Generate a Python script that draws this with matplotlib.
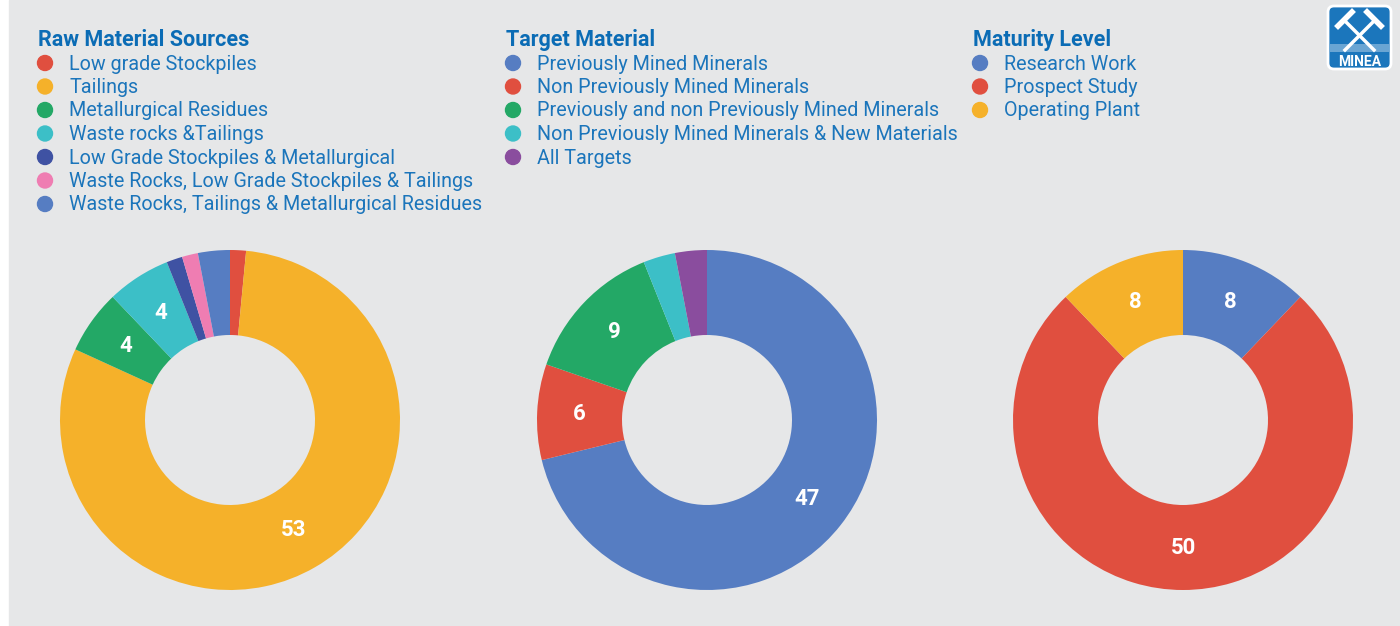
import matplotlib.pyplot as plt
import numpy as np
from matplotlib.patches import Rectangle, FancyBboxPatch, Circle

# ---- data ----
raw_labels = ["Low grade Stockpiles", "Tailings", "Metallurgical Residues",
              "Waste rocks &Tailings", "Low Grade Stockpiles & Metallurgical",
              "Waste Rocks, Low Grade Stockpiles & Tailings",
              "Waste Rocks, Tailings & Metallurgical Residues"]
raw_values = [1, 53, 4, 4, 1, 1, 2]
raw_colors = ["#e04f3f", "#f5b12a", "#23a866", "#3cbfc7", "#3f52a3", "#ef7db2", "#567dc2"]

target_labels = ["Previously Mined Minerals", "Non Previously Mined Minerals",
                 "Previously and non Previously Mined Minerals",
                 "Non Previously Mined Minerals & New Materials", "All Targets"]
target_values = [47, 6, 9, 2, 2]
target_colors = ["#567dc2", "#e04f3f", "#23a866", "#3cbfc7", "#8a4d9e"]

maturity_labels = ["Research Work", "Prospect Study", "Operating Plant"]
maturity_values = [8, 50, 8]
maturity_colors = ["#567dc2", "#e04f3f", "#f5b12a"]

titles = ["Raw Material Sources", "Target Material", "Maturity Level"]

BG = "#e6e7e8"
TXT = "#1b75bb"
TITLE = "#0b6cb5"
FONT = ["Roboto", "DejaVu Sans"]

W, H = 1400, 626
fig = plt.figure(figsize=(W / 100, H / 100), dpi=100)
fig.patch.set_facecolor("white")

# background axes in pixel coords
bg = fig.add_axes([0, 0, 1, 1])
bg.set_xlim(0, W)
bg.set_ylim(H, 0)
bg.axis("off")
bg.add_patch(Rectangle((9, 0), W - 9, H, color=BG, zorder=0))

# legends
legend_x = [45, 513, 980]
groups = [(raw_labels, raw_colors), (target_labels, target_colors),
          (maturity_labels, maturity_colors)]
for gx, title, (labs, cols) in zip(legend_x, titles, groups):
    bg.text(gx - 7, 40, title, color=TITLE, fontsize=15.5, fontweight="bold",
            family=FONT, va="center", ha="left")
    for i, (lab, col) in enumerate(zip(labs, cols)):
        y = 63 + i * 23.5
        bg.add_patch(Circle((gx, y), 7.5, color=col, zorder=2))
        bg.text(gx + 24, y + 1, lab, color=TXT, fontsize=14.2, family=FONT,
                va="center", ha="left")

# logo
bg.add_patch(FancyBboxPatch((1328, 6), 63, 63, boxstyle="round,pad=0,rounding_size=6",
                            fc="#1b76bc", ec="white", lw=2, zorder=3))
bg.plot([1344, 1374], [20, 50], color="white", lw=2.5, zorder=4)
bg.plot([1375, 1345], [20, 50], color="white", lw=2.5, zorder=4)
bg.plot([1338, 1352], [26, 12], color="white", lw=4, zorder=4)
bg.plot([1381, 1367], [26, 12], color="white", lw=4, zorder=4)
bg.add_patch(Rectangle((1330, 44), 59, 8, color="white", alpha=0.35, zorder=4, lw=0))
bg.text(1359.5, 62, "MINEA", color="white", fontsize=10, fontweight="bold",
        family=FONT, ha="center", va="center", zorder=5)

# donuts
centers = [230, 707, 1183]
cy = 420
R = 170
datasets = [(raw_values, raw_colors), (target_values, target_colors),
            (maturity_values, maturity_colors)]
for cx, (vals, cols) in zip(centers, datasets):
    ax = fig.add_axes([(cx - R) / W, (H - cy - R) / H, 2 * R / W, 2 * R / H])
    wedges, _ = ax.pie(vals, colors=cols, startangle=90, counterclock=False,
                       radius=1, wedgeprops=dict(width=0.5, linewidth=0))
    ax.set_xlim(-1, 1)
    ax.set_ylim(-1, 1)
    ax.axis("off")
    total = sum(vals)
    cum = 0
    for v in vals:
        mid = (cum + v / 2) / total * 2 * np.pi
        cum += v
        if v >= 4:
            ax.text(0.75 * np.sin(mid), 0.75 * np.cos(mid), str(v), color="white",
                    fontsize=16, fontweight="bold", family=FONT,
                    ha="center", va="center")

plt.savefig("out.png", dpi=100, facecolor=fig.get_facecolor())
